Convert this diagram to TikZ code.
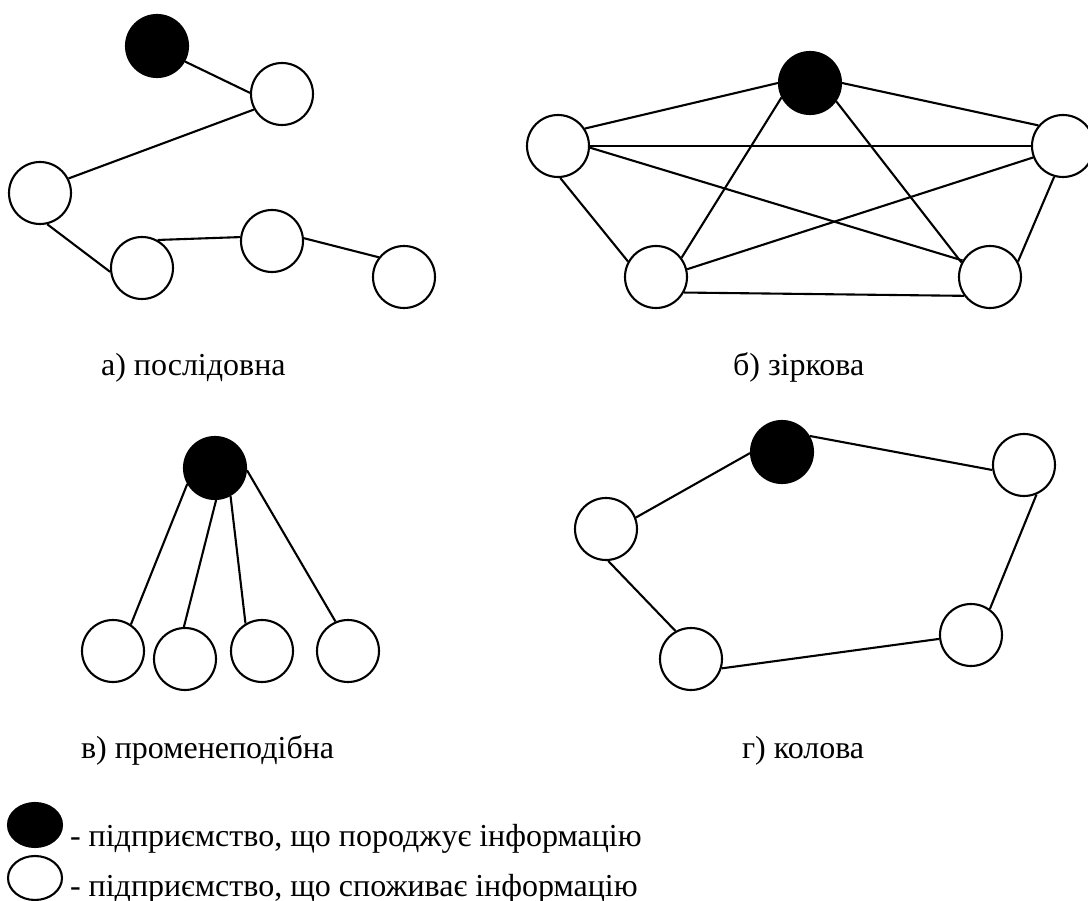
\documentclass[tikz,border=0pt]{standalone}
\usepackage{fontspec}
\setmainfont{Liberation Serif}
\usetikzlibrary{positioning}
\usetikzlibrary{shapes.geometric}
\tikzset{blk/.style = {circle, draw, fill=black, inner sep=0, minimum size=62}}
\tikzset{wht/.style = {circle, draw, fill=white, inner sep=0, minimum size=62}}
\tikzset{lbl/.style = {anchor=base west, inner sep=0, font=\fontsize{32}{38}\selectfont}}
\tikzset{
  every picture/.style={
    every path/.style={line width=2.1pt},
  }
}

\begin{document}
\begin{tikzpicture}[x=1pt, y=-1pt]
        \useasboundingbox (0,0) rectangle (1088,901);
        % a) chain
        \node[blk] (a0) at (157,46) {};
        \node[wht] (a1) at (282,94) {};
        \node[wht] (a2) at (40,193) {};
        \node[wht] (a3) at (142,268) {};
        \node[wht] (a4) at (272,241) {};
        \node[wht] (a5) at (404,277) {};
        \draw (a0.-29) -- (a1.178);
        \draw (a1.-151) -- (a2.27);
        \draw (a2.-77) -- (a3.-173);
        \draw (a3.61) -- (a4.173);
        \draw (a4.5) -- (a5.142);
        % b) star
        \node[blk] (b0) at (810,83) {};
        \node[wht] (b1) at (558,146) {};
        \node[wht] (b2) at (1063,146) {};
        \node[wht] (b3) at (656,277) {};
        \node[wht] (b4) at (990,277) {};
        \draw (b0.180) -- (b1.33);
        \draw (b0.0) -- (b2.140);
        \draw (b1.0) -- (b2.180);
        \draw (b1.-3) -- (b4.149);
        \draw (b1.-86) -- (b3.151);
        \draw (b0.207) -- (b3.37);
        \draw (b0.-35) -- (b4.153);
        \draw (b2.201) -- (b3.14);
        \draw (b2.254) -- (b4.29);
        \draw (b3.-29) -- (b4.216);
        % c) radial
        \node[blk] (c0) at (215,468) {};
        \node[wht] (c1) at (113,651) {};
        \node[wht] (c2) at (185,659) {};
        \node[wht] (c3) at (262,651) {};
        \node[wht] (c4) at (348,651) {};
        \draw (c0.210) -- (c1.56);
        \draw (c0.272) -- (c2.92);
        \draw (c0.-61) -- (c3.121);
        \draw (c0.-4) -- (c4.113);
        % d) ring
        \node[blk] (d0) at (782,452) {};
        \node[wht] (d1) at (1024,465) {};
        \node[wht] (d2) at (606,529) {};
        \node[wht] (d3) at (691,659) {};
        \node[wht] (d4) at (971,635) {};
        \draw (d0.30) -- (d1.189);
        \draw (d0.182) -- (d2.21);
        \draw (d2.-86) -- (d3.119);
        \draw (d3.-17) -- (d4.187);
        \draw (d4.54) -- (d1.-67);
        % captions
        \node[lbl] (la) at (100,376) {а) послідовна};
        \node[lbl] (lb) at (732,376) {б) зіркова};
        \node[lbl] (lc) at (80,758) {в) променеподібна};
        \node[lbl] (ld) at (741,758) {г) колова};
        % legend
        \node[ellipse, draw, fill=black, inner sep=0, minimum width=54, minimum height=44] (k1) at (35,825) {};
        \node[ellipse, draw, inner sep=0, minimum width=54, minimum height=44] (k2) at (35,878) {};
        \node[lbl] (t1) at (69,846) {- підприємство, що породжує інформацію};
        \node[lbl] (t2) at (69,896) {- підприємство, що споживає інформацію};
      \end{tikzpicture}
\end{document}
